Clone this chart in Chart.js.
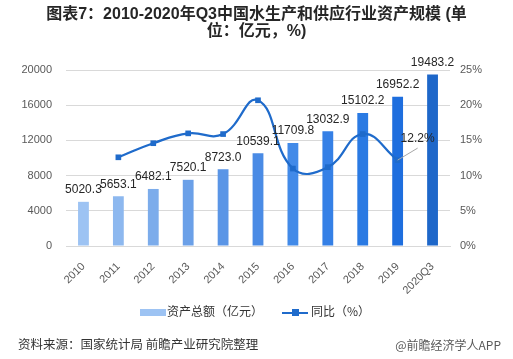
<!DOCTYPE html>
<html><head><meta charset="utf-8">
<script src="https://cdn.jsdelivr.net/npm/chart.js@4/dist/chart.umd.min.js"></script>
<style>
html,body{margin:0;padding:0;background:#fff;}
#wrap{position:relative;width:513px;height:359px;overflow:hidden;font-family:"Liberation Sans","Noto Sans CJK SC",sans-serif;}
canvas{position:absolute;left:0;top:0;}
#title{position:absolute;left:0;top:5px;width:513px;text-align:center;font-weight:bold;font-size:16px;line-height:17px;color:#262626;font-family:"Liberation Sans","Noto Sans CJK SC",sans-serif;}
.lg{position:absolute;top:303px;font-size:12px;color:#333;line-height:16px;font-family:"Noto Sans CJK SC",sans-serif;}
#src{position:absolute;left:18px;top:335px;font-size:12.5px;color:#333;font-family:"Noto Sans CJK SC",sans-serif;line-height:18px;}
#brand{position:absolute;right:12px;top:336px;font-size:12px;color:#595959;font-family:"Noto Sans CJK SC",sans-serif;line-height:18px;}
</style></head>
<body><div id="wrap">
<canvas id="c" width="513" height="359"></canvas>
<div id="title">图表7：2010-2020年Q3中国水生产和供应行业资产规模 (单<br>位：亿元，%)</div>
<div class="lg" style="left:140px;"><span style="display:inline-block;width:26px;height:7px;background:#9DC3F3;vertical-align:middle;margin-right:1px;"></span>资产总额（亿元）</div>
<div class="lg" style="left:282px;"><span style="display:inline-block;position:relative;width:26px;height:8px;vertical-align:middle;margin-right:3px;"><span style="position:absolute;left:0;top:3px;width:26px;height:2px;background:#1F6BCB;"></span><span style="position:absolute;left:10px;top:0;width:7px;height:7px;background:#1F6BCB;"></span></span>同比（%）</div>
<div id="src">资料来源：国家统计局 前瞻产业研究院整理</div>
<div id="brand">@前瞻经济学人APP</div>
</div>
<script>
const categories = ["2010","2011","2012","2013","2014","2015","2016","2017","2018","2019","2020Q3"];
const assetTotals = [5020.3,5653.1,6482.1,7520.1,8723.0,10539.1,11709.8,13032.9,15102.2,16952.2,19483.2];
const yoyGrowth = [null,12.6,14.6,16.0,15.9,20.7,11.0,11.2,15.9,12.2,null];
const leftTicks = [0,4000,8000,12000,16000,20000];
const rightTicks = [0,5,10,15,20,25];
const barColors = ["#9DC3F3","#8DB8EF","#7CACEB","#6BA0E8","#5A95E6","#4A8BE5","#428AE8","#3580E6","#2A7AE3","#1E6EDE","#1E67C9"];

const labelPlugin = {
  id:'labels',
  afterDatasetsDraw(chart){
    const ctx = chart.ctx;
    const bars = chart.getDatasetMeta(1).data;
    ctx.save();
    ctx.font = '12px "Liberation Sans", sans-serif';
    ctx.fillStyle = '#262626';
    ctx.textAlign = 'center';
    ctx.textBaseline = 'middle';
    bars.forEach((b,i)=>{
      ctx.fillText(assetTotals[i].toFixed(1), b.x, b.y - 12);
    });
    const pts = chart.getDatasetMeta(0).data;
    const p = pts[9];
    ctx.strokeStyle = '#A6A6A6';
    ctx.lineWidth = 1;
    ctx.beginPath();
    ctx.moveTo(p.x, p.y);
    ctx.lineTo(p.x + 20, p.y - 12);
    ctx.stroke();
    ctx.fillText(yoyGrowth[9].toFixed(1) + '%', p.x + 20, p.y - 21);
    ctx.restore();
  }
};

new Chart(document.getElementById('c'), {
  data:{
    labels:categories,
    datasets:[
      {type:'line',label:'同比（%）',data:yoyGrowth,yAxisID:'y1',borderColor:'#1F6BCB',backgroundColor:'#1F6BCB',borderWidth:2.2,pointStyle:'rect',pointRadius:4,pointBackgroundColor:'#1F6BCB',pointBorderWidth:0,tension:0.45,spanGaps:false,order:0},
      {type:'bar',label:'资产总额（亿元）',data:assetTotals,yAxisID:'y',backgroundColor:barColors,barPercentage:0.62,categoryPercentage:0.5,order:1}
    ]
  },
  options:{
    responsive:false,animation:false,
    layout:{padding:{top:70,left:0,right:0,bottom:0}},
    plugins:{legend:{display:false},tooltip:{enabled:false}},
    scales:{
      x:{
        grid:{display:false},
        border:{display:true,color:'#D9D9D9',width:1},
        ticks:{minRotation:45,maxRotation:45,color:'#595959',font:{size:11,family:'"Liberation Sans", sans-serif'},padding:6},
        afterFit(s){s.height=113;}
      },
      y:{
        position:'left',min:0,max:20000,
        afterBuildTicks(s){s.ticks=leftTicks.map(v=>({value:v}));},
        grid:{color:'#D9D9D9',drawTicks:false,lineWidth:1},
        border:{display:false},
        ticks:{color:'#595959',font:{size:11,family:'"Liberation Sans", sans-serif'},padding:14,callback:v=>String(v)},
        afterFit(s){s.width=66;}
      },
      y1:{
        position:'right',min:0,max:25,
        afterBuildTicks(s){s.ticks=rightTicks.map(v=>({value:v}));},
        grid:{display:false,drawTicks:false},
        border:{display:false},
        ticks:{color:'#595959',font:{size:11,family:'"Liberation Sans", sans-serif'},padding:10,callback:v=>v+'%'},
        afterFit(s){s.width=63;}
      }
    }
  },
  plugins:[labelPlugin]
});
</script>
</body></html>
